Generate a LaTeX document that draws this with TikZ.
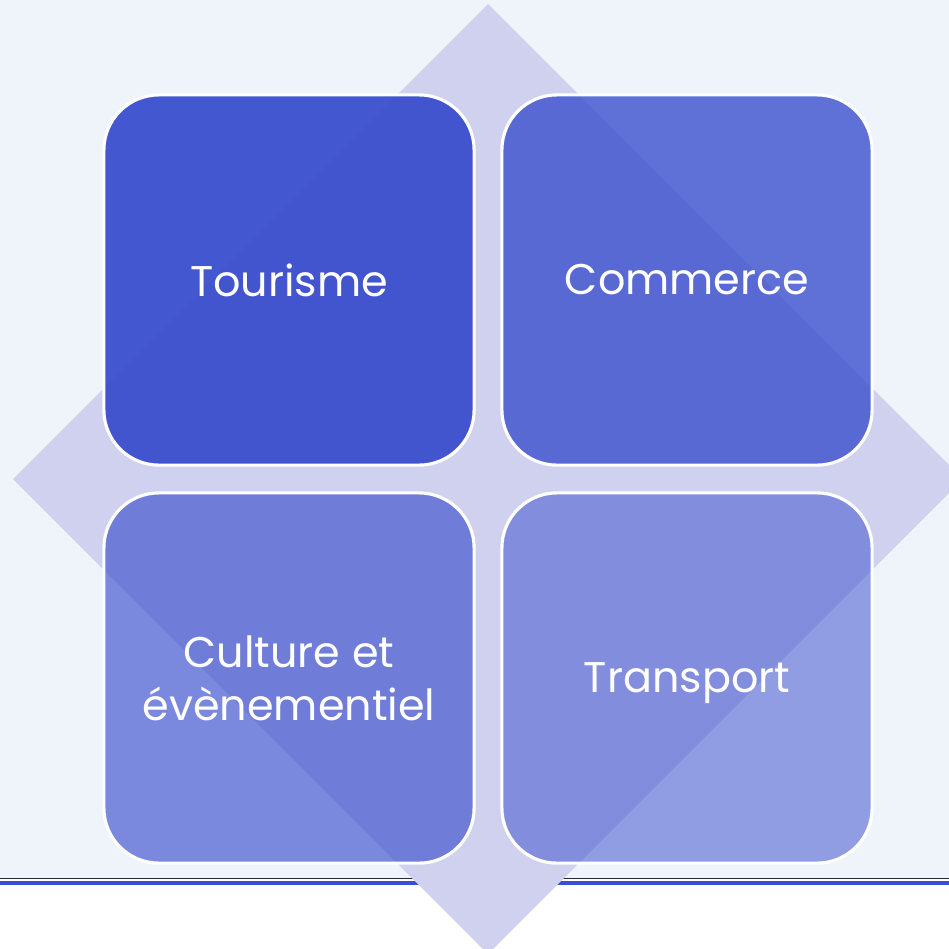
\documentclass[tikz,border=0pt]{standalone}
\usepackage{fontspec}
\setmainfont{Poppins}
\usepackage{tikz}

\definecolor{pagebg}{HTML}{EFF3FA}
\definecolor{diamondfill}{HTML}{D0D1EE}
\definecolor{boxblue}{RGB}{62,82,207}
\definecolor{rulenavy}{HTML}{1F2A44}
\definecolor{ruleblue}{HTML}{3A4FD0}

\begin{document}
\begin{tikzpicture}[x=0.01cm, y=-0.01cm,
    box/.style={draw=white, line width=0.9pt, fill=boxblue, rounded corners=0.55cm,
        minimum width=3.7cm, minimum height=3.7cm, inner sep=0pt, text=white, text opacity=1,
        align=center, font=\fontsize{12.2}{15}\selectfont}]
    \useasboundingbox (0,0) rectangle (949,948);

    % page background and rules
    \fill[pagebg] (0,0) rectangle (949,878);
    \fill[white] (0,878) rectangle (949,948);
    \draw[rulenavy, line width=0.48pt] (0,878.5) -- (949,878.5);
    \draw[ruleblue, line width=1.15pt] (0,883) -- (949,883);

    % diamond behind the boxes
    \fill[diamondfill] (488,4) -- (963,479) -- (488,954) -- (13,479) -- cycle;

    % the four boxes
    \node[box, fill opacity=0.97] (tourisme) at (289,280) {Tourisme};
    \node[box, fill opacity=0.81] (commerce) at (687,280) {Commerce};
    \node[box, fill opacity=0.66] (culture) at (289,678) {Culture et\\évènementiel};
    \node[box, fill opacity=0.53, text depth=0pt] (transport) at (687,678) {Transport};

\end{tikzpicture}
\end{document}
